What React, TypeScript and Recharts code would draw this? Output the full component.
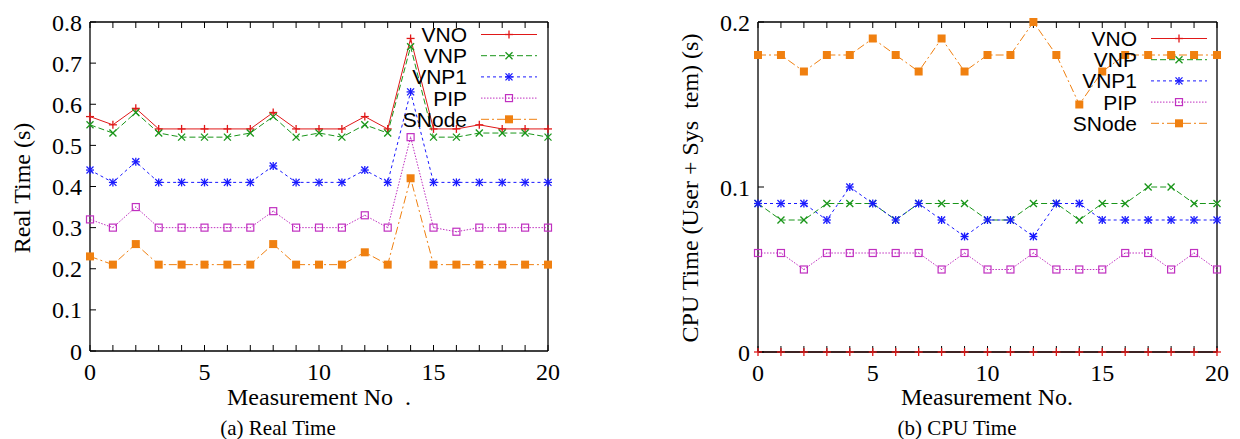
import React from "react";
import { LineChart, Line, XAxis, YAxis, Legend } from "recharts";

// measurement index on the x axis (both panels)
const measurementNo = [0, 1, 2, 3, 4, 5, 6, 7, 8, 9, 10, 11, 12, 13, 14, 15, 16, 17, 18, 19, 20];
const seriesNames = ["VNO", "VNP", "VNP1", "PIP", "SNode"];

// (a) real time, seconds
const realVNO = [0.57, 0.55, 0.59, 0.54, 0.54, 0.54, 0.54, 0.54, 0.58, 0.54, 0.54, 0.54, 0.57, 0.54, 0.76, 0.54, 0.54, 0.55, 0.54, 0.54, 0.54];
const realVNP = [0.55, 0.53, 0.58, 0.53, 0.52, 0.52, 0.52, 0.53, 0.57, 0.52, 0.53, 0.52, 0.55, 0.53, 0.74, 0.52, 0.52, 0.53, 0.53, 0.53, 0.52];
const realVNP1 = [0.44, 0.41, 0.46, 0.41, 0.41, 0.41, 0.41, 0.41, 0.45, 0.41, 0.41, 0.41, 0.44, 0.41, 0.63, 0.41, 0.41, 0.41, 0.41, 0.41, 0.41];
const realPIP = [0.32, 0.3, 0.35, 0.3, 0.3, 0.3, 0.3, 0.3, 0.34, 0.3, 0.3, 0.3, 0.33, 0.3, 0.52, 0.3, 0.29, 0.3, 0.3, 0.3, 0.3];
const realSNode = [0.23, 0.21, 0.26, 0.21, 0.21, 0.21, 0.21, 0.21, 0.26, 0.21, 0.21, 0.21, 0.24, 0.21, 0.42, 0.21, 0.21, 0.21, 0.21, 0.21, 0.21];

// (b) cpu time (user + system), seconds
const cpuVNO = [0, 0, 0, 0, 0, 0, 0, 0, 0, 0, 0, 0, 0, 0, 0, 0, 0, 0, 0, 0, 0];
const cpuVNP = [0.09, 0.08, 0.08, 0.09, 0.09, 0.09, 0.08, 0.09, 0.09, 0.09, 0.08, 0.08, 0.09, 0.09, 0.08, 0.09, 0.09, 0.1, 0.1, 0.09, 0.09];
const cpuVNP1 = [0.09, 0.09, 0.09, 0.08, 0.1, 0.09, 0.08, 0.09, 0.08, 0.07, 0.08, 0.08, 0.07, 0.09, 0.09, 0.08, 0.08, 0.08, 0.08, 0.08, 0.08];
const cpuPIP = [0.06, 0.06, 0.05, 0.06, 0.06, 0.06, 0.06, 0.06, 0.05, 0.06, 0.05, 0.05, 0.06, 0.05, 0.05, 0.05, 0.06, 0.06, 0.05, 0.06, 0.05];
const cpuSNode = [0.18, 0.18, 0.17, 0.18, 0.18, 0.19, 0.18, 0.17, 0.19, 0.17, 0.18, 0.18, 0.2, 0.18, 0.15, 0.17, 0.18, 0.18, 0.18, 0.18, 0.18];

const realTicks = [0, 0.1, 0.2, 0.3, 0.4, 0.5, 0.6, 0.7, 0.8];
const cpuTicks = [0, 0.1, 0.2];

const serif = "'Liberation Serif', 'Times New Roman', serif";
const sans = "'Liberation Sans', Arial, sans-serif";

// gnuplot-ish line types
const styles = [
  { color: "#e01818", dash: undefined, shape: "plus" },
  { color: "#1a961a", dash: "6 3", shape: "cross" },
  { color: "#1a1aff", dash: "3 3", shape: "star" },
  { color: "#c030c0", dash: "1.5 1.5", shape: "box" },
  { color: "#f08010", dash: "8 3 2 3", shape: "fbox" },
];

function toRows(cols: number[][]) {
  return measurementNo.map((x, i) => {
    const row: Record<string, number> = { x };
    seriesNames.forEach((n, k) => (row[n] = cols[k][i]));
    return row;
  });
}

const realRows = toRows([realVNO, realVNP, realVNP1, realPIP, realSNode]);
const cpuRows = toRows([cpuVNO, cpuVNP, cpuVNP1, cpuPIP, cpuSNode]);

function Marker({ shape, x, y, color }: { shape: string; x: number; y: number; color: string }) {
  const s = 4;
  const plus = (
    <>
      <line x1={x - s} y1={y} x2={x + s} y2={y} />
      <line x1={x} y1={y - s} x2={x} y2={y + s} />
    </>
  );
  const cross = (
    <>
      <line x1={x - s + 0.5} y1={y - s + 0.5} x2={x + s - 0.5} y2={y + s - 0.5} />
      <line x1={x - s + 0.5} y1={y + s - 0.5} x2={x + s - 0.5} y2={y - s + 0.5} />
    </>
  );
  if (shape === "box")
    return (
      <g>
        <rect x={x - 3.5} y={y - 3.5} width={7} height={7} fill="none" stroke={color} strokeWidth={1.2} />
        <rect x={x - 0.5} y={y - 0.5} width={1} height={1} fill={color} />
      </g>
    );
  if (shape === "fbox") return <rect x={x - 4} y={y - 4} width={8} height={8} fill={color} />;
  return (
    <g stroke={color} strokeWidth={1.3}>
      {(shape === "plus" || shape === "star") && plus}
      {(shape === "cross" || shape === "star") && cross}
    </g>
  );
}

function KeyBox() {
  return (
    <svg width={170} height={112} style={{ overflow: "visible" }}>
      {seriesNames.map((name, i) => {
        const st = styles[i];
        const y = 12.5 + i * 21.2;
        return (
          <g key={name}>
            <text x={87} y={y} dy="0.36em" textAnchor="end" fontFamily={sans} fontSize={21} fill="#000">
              {name}
            </text>
            <line x1={101} x2={157} y1={y} y2={y} stroke={st.color} strokeDasharray={st.dash} strokeWidth={1} />
            <Marker shape={st.shape} x={129} y={y} color={st.color} />
          </g>
        );
      })}
    </svg>
  );
}

type PanelProps = {
  rows: Record<string, number>[];
  yTicks: number[];
  yMax: number;
  margin: { top: number; right: number; bottom: number; left: number };
  yWidth: number;
  yTitle: string;
  yTitleX: number;
  xTitle: string;
  xTitleX: number;
  legendLeft: number;
  legendTop: number;
};

function Panel(p: PanelProps) {
  const axisLine = { stroke: "#000", strokeWidth: 1.3 };
  const tickLine = { stroke: "#000", strokeWidth: 1 };
  const tickFont = { fill: "#000", fontSize: 24, fontFamily: serif };
  return (
    <LineChart width={620} height={439} data={p.rows} margin={p.margin}>
      <XAxis
        xAxisId="b"
        type="number"
        dataKey="x"
        domain={[0, 20]}
        ticks={measurementNo}
        interval={0}
        tickSize={-6}
        tickMargin={18}
        tickFormatter={(v: number) => (v % 5 === 0 ? String(v) : "")}
        height={60}
        axisLine={axisLine}
        tickLine={tickLine}
        tick={tickFont}
        label={() => (
          <text x={p.xTitleX} y={397} dy="0.35em" textAnchor="middle" fontFamily={serif} fontSize={24} fill="#000" style={{ whiteSpace: "pre" }}>
            {p.xTitle}
          </text>
        )}
      />
      <XAxis
        xAxisId="t"
        orientation="top"
        type="number"
        dataKey="x"
        domain={[0, 20]}
        ticks={measurementNo}
        interval={0}
        tickSize={-6}
        tickFormatter={() => ""}
        height={1}
        axisLine={axisLine}
        tickLine={tickLine}
      />
      <YAxis
        yAxisId="l"
        type="number"
        domain={[0, p.yMax]}
        ticks={p.yTicks}
        interval={0}
        tickSize={-6}
        tickMargin={14}
        width={p.yWidth}
        axisLine={axisLine}
        tickLine={tickLine}
        tick={tickFont}
        label={() => (
          <text
            x={p.yTitleX}
            y={188}
            dy="0.35em"
            textAnchor="middle"
            transform={`rotate(-90 ${p.yTitleX} 188)`}
            fontFamily={serif}
            fontSize={24}
            fill="#000"
            style={{ whiteSpace: "pre" }}
          >
            {p.yTitle}
          </text>
        )}
      />
      <YAxis
        yAxisId="r"
        orientation="right"
        type="number"
        domain={[0, p.yMax]}
        ticks={p.yTicks}
        interval={0}
        tickSize={-6}
        tickFormatter={() => ""}
        width={1}
        axisLine={axisLine}
        tickLine={tickLine}
      />
      <Legend
        layout="horizontal"
        verticalAlign="middle"
        align="center"
        content={() => <KeyBox />}
        wrapperStyle={{ left: p.legendLeft, top: p.legendTop, width: 170, height: 112 }}
      />
      {seriesNames.map((name, i) => (
        <Line
          key={name}
          xAxisId="b"
          yAxisId="l"
          type="linear"
          dataKey={name}
          stroke={styles[i].color}
          strokeWidth={1}
          strokeDasharray={styles[i].dash}
          dot={(d: any) => <Marker key={`${name}-${d.index}`} shape={styles[i].shape} x={d.cx} y={d.cy} color={styles[i].color} />}
          activeDot={false}
          isAnimationActive={false}
        />
      ))}
    </LineChart>
  );
}

const captionStyle: React.CSSProperties = {
  position: "absolute",
  top: 428,
  transform: "translate(-50%, -50%)",
  fontFamily: serif,
  fontSize: 21,
  whiteSpace: "nowrap",
  color: "#000",
};

export default function App() {
  return (
    <div style={{ position: "absolute", left: 0, top: 0, width: 1240, height: 439, background: "#fff", overflow: "hidden" }}>
      <div style={{ position: "absolute", left: 0, top: 0 }}>
        <Panel
          rows={realRows}
          yTicks={realTicks}
          yMax={0.8}
          margin={{ top: 21, right: 71, bottom: 28, left: 30 }}
          yWidth={60}
          yTitle="Real Time (s)"
          yTitleX={22}
          xTitle="Measurement No  ."
          xTitleX={319}
          legendLeft={380}
          legendTop={22}
        />
      </div>
      <div style={{ position: "absolute", left: 620, top: 0 }}>
        <Panel
          rows={cpuRows}
          yTicks={cpuTicks}
          yMax={0.2}
          margin={{ top: 21, right: 22, bottom: 27, left: 58 }}
          yWidth={80}
          yTitle="CPU Time (User + Sys  tem) (s)"
          yTitleX={70}
          xTitle="Measurement No."
          xTitleX={367}
          legendLeft={430}
          legendTop={26}
        />
      </div>
      <div style={{ ...captionStyle, left: 278 }}>(a) Real Time</div>
      <div style={{ ...captionStyle, left: 957 }}>(b) CPU Time</div>
    </div>
  );
}
